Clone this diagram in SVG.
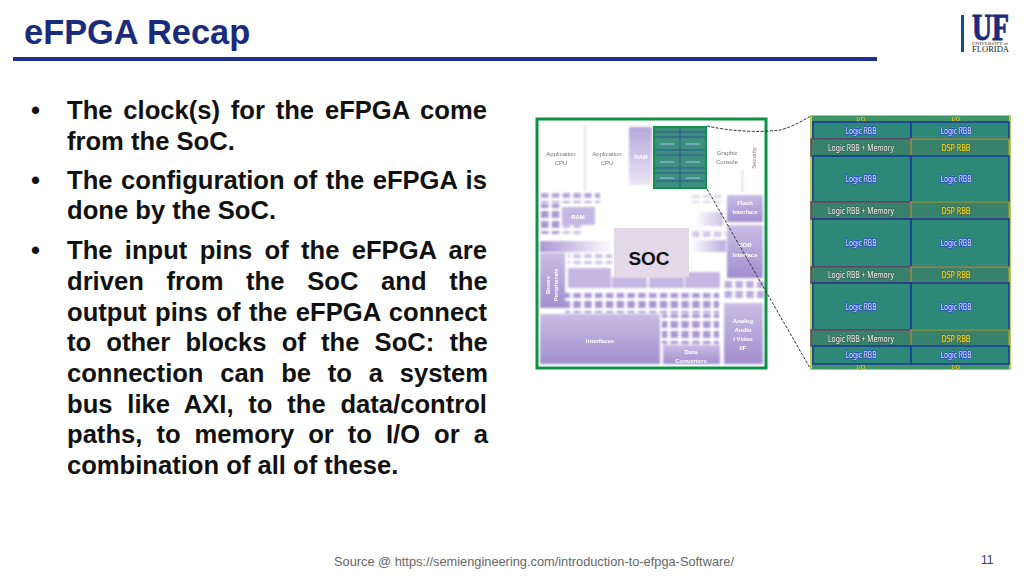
<svg xmlns="http://www.w3.org/2000/svg" width="1024" height="576" viewBox="0 0 1024 576">
<style>
.t{font-family:"Liberation Sans",Arial,sans-serif}
.b{font-family:"Liberation Sans",Arial,sans-serif;font-weight:700;font-size:25.6px;fill:#111}
.pl{fill:#c4b8e2}
.sl{font-family:"Liberation Sans",Arial,sans-serif;font-size:6px;fill:#777;text-anchor:middle}
.sw{font-family:"Liberation Sans",Arial,sans-serif;font-size:6px;font-weight:700;fill:#fff;text-anchor:middle}
.lg{font-family:"Noto Sans",sans-serif;font-size:9px;text-anchor:middle;paint-order:stroke;stroke-width:1.4px}
.blue{fill:#dbe6ff;stroke:#2c46c8}.white{fill:#f4f6f0;stroke:#3a5f55}.yel{fill:#f3e62e;stroke:#5f6b30}
.cellB{fill:#2f8878;stroke:#17389c;stroke-width:1.5}
.cellM{fill:#37826c;stroke:#6e4560;stroke-width:1.5}
.cellD{fill:#37826c;stroke:#9c9a3a;stroke-width:1.3}
.io{fill:#3f9468}
.dash{fill:none;stroke:#333;stroke-width:1;stroke-dasharray:3 1.5}
</style>
<defs>
<filter id="bl" x="-5%" y="-5%" width="110%" height="110%"><feGaussianBlur stdDeviation="1"/></filter>
<filter id="bm" x="-5%" y="-5%" width="110%" height="110%"><feGaussianBlur stdDeviation="0.6"/></filter>
<filter id="bs" x="-5%" y="-5%" width="110%" height="110%"><feGaussianBlur stdDeviation="0.3"/></filter>
<pattern id="sq" width="10.8" height="10" patternUnits="userSpaceOnUse"><rect x="1" y="1" width="7.5" height="7" fill="#a997d2"/></pattern>
<linearGradient id="vf" x1="0" y1="0" x2="0" y2="1"><stop offset="0" stop-color="#b6a7da"/><stop offset="1" stop-color="#e9e5f3"/></linearGradient>
<linearGradient id="hf" x1="0" y1="0" x2="1" y2="0"><stop offset="0" stop-color="#a997d2"/><stop offset="1" stop-color="#ffffff"/></linearGradient>
<linearGradient id="hr" x1="0" y1="0" x2="1" y2="0"><stop offset="0" stop-color="#ffffff"/><stop offset="1" stop-color="#a997d2"/></linearGradient>
<linearGradient id="vd" x1="0" y1="0" x2="0" y2="1"><stop offset="0" stop-color="#c9bde5"/><stop offset="1" stop-color="#a28fce"/></linearGradient>
</defs>
<rect width="1024" height="576" fill="#fff"/>

<g id="header">
<text class="t" x="24" y="44" font-size="34.4" font-weight="700" fill="#1a2b7c">eFPGA Recap</text>
<rect x="13" y="57" width="864" height="4" fill="#1f2f90"/>
</g>

<g id="logo">
<rect x="961" y="15" width="3" height="37" fill="#0f4f91"/>
<text x="972" y="40" font-family="Liberation Serif,serif" font-weight="700" font-size="37" fill="#1b2a7a" stroke="#1b2a7a" stroke-width="1" textLength="37" lengthAdjust="spacingAndGlyphs">UF</text>
<text x="972" y="45" font-family="Liberation Serif,serif" font-size="3.8" fill="#333" textLength="36" lengthAdjust="spacingAndGlyphs">UNIVERSITY of</text>
<text x="972" y="52" font-family="Liberation Serif,serif" font-size="8.6" fill="#222" textLength="37" lengthAdjust="spacingAndGlyphs">FLORIDA</text>
</g>

<g id="bullets">
<text class="b" x="31" y="119">•</text>
<text class="b" x="31" y="189">•</text>
<text class="b" x="31" y="259">•</text>
<text class="b" x="67" y="119" word-spacing="3.68">The clock(s) for the eFPGA come</text>
<text class="b" x="67" y="150">from the SoC.</text>
<text class="b" x="67" y="189" word-spacing="1.42">The configuration of the eFPGA is</text>
<text class="b" x="67" y="219">done by the SoC.</text>
<text class="b" x="67" y="259" word-spacing="5.2">The input pins of the eFPGA are</text>
<text class="b" x="67" y="290" word-spacing="15.6">driven from the SoC and the</text>
<text class="b" x="67" y="321" word-spacing="1.42">output pins of the eFPGA connect</text>
<text class="b" x="67" y="351" word-spacing="8.05">to other blocks of the SoC: the</text>
<text class="b" x="67" y="382" word-spacing="9.66">connection can be to a system</text>
<text class="b" x="67" y="413" word-spacing="7.66">bus like AXI, to the data/control</text>
<text class="b" x="67" y="443" word-spacing="6.9">paths, to memory or to I/O or a</text>
<text class="b" x="67" y="474">combination of all of these.</text>
</g>

<g id="soc-picture">
<rect x="538" y="119" width="228" height="249" fill="#fff"/>
<g filter="url(#bl)">
<rect x="584.5" y="125" width="1" height="65" fill="#ccc"/>
<rect x="742" y="170" width="1" height="22" fill="#ccc"/>
<rect x="629" y="127" width="23" height="58" fill="url(#vf)"/>
<rect x="540" y="193" width="60" height="10" fill="url(#sq)" opacity=".85"/>
<rect x="540" y="204" width="22" height="30" fill="url(#sq)"/>
<rect x="562" y="225" width="22" height="9" fill="url(#sq)" opacity=".6"/>
<rect x="562" y="207" width="33" height="18" class="pl"/>
<rect x="690" y="195" width="34" height="8" fill="url(#sq)" opacity=".4"/>
<rect x="695" y="212" width="28" height="14" fill="url(#hr)" opacity=".6"/>
<rect x="690" y="228" width="36" height="9" fill="url(#sq)" opacity=".5"/>
<rect x="540" y="241" width="74" height="11" fill="url(#hf)"/>
<rect x="690" y="240" width="36" height="12" fill="url(#hr)" opacity=".8"/>
<rect x="540" y="253" width="25" height="55" fill="url(#vd)"/>
<rect x="568" y="254" width="44" height="10" fill="url(#sq)" opacity=".6"/>
<rect x="568" y="268" width="43" height="20" class="pl"/>
<rect x="612" y="277" width="35" height="11" class="pl"/>
<rect x="649" y="277" width="35" height="11" class="pl"/>
<rect x="685" y="272" width="35" height="16" class="pl"/>
<rect x="727" y="195" width="36" height="27" fill="url(#vd)"/>
<rect x="727" y="225" width="36" height="53" fill="url(#vd)"/>
<rect x="722" y="281" width="42" height="20" fill="url(#sq)" opacity=".8"/>
<rect x="565" y="293" width="154" height="20" fill="url(#sq)"/>
<rect x="540" y="314" width="120" height="50" fill="url(#vd)"/>
<rect x="662" y="314" width="57" height="30" fill="url(#sq)"/>
<rect x="663" y="345" width="57" height="19" fill="url(#vd)"/>
<rect x="724" y="303" width="39" height="61" fill="url(#vd)"/>
</g>
<g filter="url(#bm)">
<text class="sl" x="561" y="156">Application</text><text class="sl" x="561" y="165">CPU</text>
<text class="sl" x="607" y="156">Application</text><text class="sl" x="607" y="165">CPU</text>
<text class="sl" x="727" y="155">Graphic</text><text class="sl" x="727" y="164">Console</text>
<text class="sw" x="641" y="159">RAM</text>
<text class="sw" x="578" y="219">RAM</text>
<text class="sw" x="745" y="205">Flash</text><text class="sw" x="745" y="214">Interface</text>
<text class="sw" x="745" y="247">DDR</text><text class="sw" x="745" y="257">Interface</text>
<text class="sw" x="600" y="343">Interfaces</text>
<text class="sw" x="691" y="354">Data</text><text class="sw" x="691" y="363">Converters</text>
<text class="sw" x="743" y="323">Analog</text><text class="sw" x="743" y="332">Audio</text><text class="sw" x="743" y="341">/ Video</text><text class="sw" x="743" y="350">I/F</text>
<text class="sl" transform="translate(756,158) rotate(-90)">Security</text>
<text class="sw" transform="translate(550,285) rotate(-90)">Buses</text>
<text class="sw" transform="translate(558,285) rotate(-90)">Peripherals</text>
</g>
<g id="efpga-thumb">
<rect x="654" y="127" width="52" height="61" fill="#3d8f80"/>
<path d="M654 132H706M654 137H706M654 150H706M654 155H706M654 168H706M654 173H706M654 181H706M680 127V188" fill="none" stroke="#2a4a8c" stroke-width=".8"/>
<path d="M660 144H674M686 144H700M660 162H674M686 162H700M660 178H674M686 178H700" fill="none" stroke="#a9c2f5" stroke-width="1.2" filter="url(#bs)"/>
<rect x="654" y="127" width="52" height="61" fill="none" stroke="#0e9245" stroke-width="2"/>
</g>
<rect x="537" y="119" width="229" height="249" fill="none" stroke="#0e9245" stroke-width="3"/>
</g>

<g id="soc-label">
<rect x="614" y="228" width="75" height="49" fill="#e3d9e9"/>
<text class="t" x="649" y="265" font-size="19" font-weight="700" fill="#111" text-anchor="middle">SOC</text>
</g>

<g id="connectors">
<path class="dash" d="M707 126C730 131 758 133 780 130C792 127 802 121 811 116"/>
<path class="dash" d="M707 189L810 368"/>
</g>

<g id="efpga-detail">
<rect x="810" y="115" width="201" height="255" fill="#b7c95a"/>
<g filter="url(#bs)">
<rect x="812" y="116" width="197" height="253" class="io"/>
<rect x="813" y="122" width="98" height="17" class="cellB"/><rect x="911" y="122" width="98" height="17" class="cellB"/>
<rect x="811" y="139" width="100" height="17" class="cellM"/><rect x="911" y="139" width="98" height="17" class="cellD"/>
<rect x="813" y="156" width="98" height="46" class="cellB"/><rect x="911" y="156" width="98" height="46" class="cellB"/>
<rect x="811" y="202" width="100" height="17" class="cellM"/><rect x="911" y="202" width="98" height="17" class="cellD"/>
<rect x="813" y="219" width="98" height="48" class="cellB"/><rect x="911" y="219" width="98" height="48" class="cellB"/>
<rect x="811" y="267" width="100" height="16" class="cellM"/><rect x="911" y="267" width="98" height="16" class="cellD"/>
<rect x="813" y="283" width="98" height="47" class="cellB"/><rect x="911" y="283" width="98" height="47" class="cellB"/>
<rect x="811" y="330" width="100" height="16" class="cellM"/><rect x="911" y="330" width="98" height="16" class="cellD"/>
<rect x="813" y="346" width="98" height="18" class="cellB"/><rect x="911" y="346" width="98" height="18" class="cellB"/>
</g>
<g filter="url(#bs)">
<text class="lg yel" x="861" y="121" style="font-size:6px;stroke-width:.5px">I/O</text><text class="lg yel" x="956" y="121" style="font-size:6px;stroke-width:.5px">I/O</text>
<text class="lg yel" x="861" y="369" style="font-size:6px;stroke-width:.5px">I/O</text><text class="lg yel" x="956" y="369" style="font-size:6px;stroke-width:.5px">I/O</text>
<text class="lg blue" x="861" y="134" textLength="31" lengthAdjust="spacingAndGlyphs">Logic RBB</text><text class="lg blue" x="956" y="134" textLength="31" lengthAdjust="spacingAndGlyphs">Logic RBB</text>
<text class="lg white" x="861" y="151" textLength="66" lengthAdjust="spacingAndGlyphs">Logic RBB + Memory</text><text class="lg yel" x="956" y="151" textLength="29" lengthAdjust="spacingAndGlyphs">DSP RBB</text>
<text class="lg blue" x="861" y="182" textLength="31" lengthAdjust="spacingAndGlyphs">Logic RBB</text><text class="lg blue" x="956" y="182" textLength="31" lengthAdjust="spacingAndGlyphs">Logic RBB</text>
<text class="lg white" x="861" y="214" textLength="66" lengthAdjust="spacingAndGlyphs">Logic RBB + Memory</text><text class="lg yel" x="956" y="214" textLength="29" lengthAdjust="spacingAndGlyphs">DSP RBB</text>
<text class="lg blue" x="861" y="246" textLength="31" lengthAdjust="spacingAndGlyphs">Logic RBB</text><text class="lg blue" x="956" y="246" textLength="31" lengthAdjust="spacingAndGlyphs">Logic RBB</text>
<text class="lg white" x="861" y="278" textLength="66" lengthAdjust="spacingAndGlyphs">Logic RBB + Memory</text><text class="lg yel" x="956" y="278" textLength="29" lengthAdjust="spacingAndGlyphs">DSP RBB</text>
<text class="lg blue" x="861" y="310" textLength="31" lengthAdjust="spacingAndGlyphs">Logic RBB</text><text class="lg blue" x="956" y="310" textLength="31" lengthAdjust="spacingAndGlyphs">Logic RBB</text>
<text class="lg white" x="861" y="342" textLength="66" lengthAdjust="spacingAndGlyphs">Logic RBB + Memory</text><text class="lg yel" x="956" y="342" textLength="29" lengthAdjust="spacingAndGlyphs">DSP RBB</text>
<text class="lg blue" x="861" y="358" textLength="31" lengthAdjust="spacingAndGlyphs">Logic RBB</text><text class="lg blue" x="956" y="358" textLength="31" lengthAdjust="spacingAndGlyphs">Logic RBB</text>
</g>
</g>

<g id="footer">
<text class="t" x="334" y="566" font-size="12.8" fill="#666">Source @ https://semiengineering.com/introduction-to-efpga-Software/</text>
<text class="t" x="981" y="564" font-size="12" fill="#2a3a80">11</text>
</g>
</svg>
